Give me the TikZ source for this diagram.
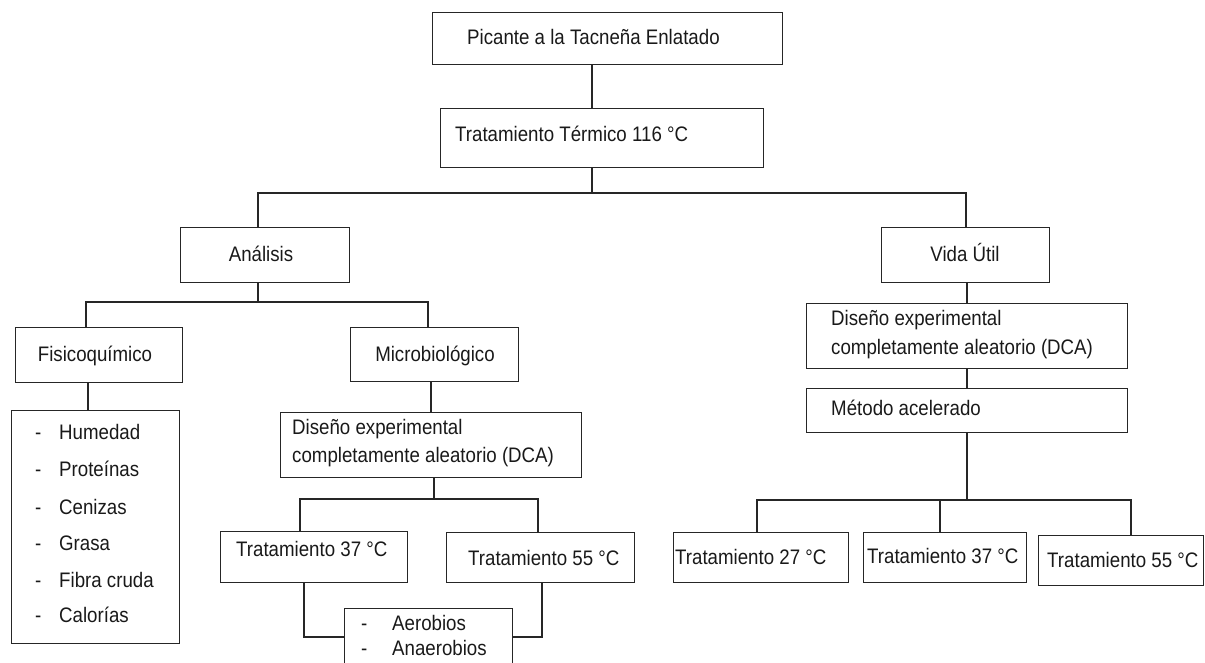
\documentclass[tikz,border=0pt]{standalone}
\usepackage{fontspec}
\setmainfont{Liberation Sans}[FakeStretch=0.89]
\begin{document}
\begin{tikzpicture}[x=1pt,y=-1pt,
  bx/.style={draw=black!85, line width=1.2pt, inner sep=0pt, anchor=north west},
  tx/.style={anchor=west, inner sep=0pt, text height=15pt, text depth=0pt,
             font=\fontsize{21}{25}\selectfont, text=black!90},
  ln/.style={draw=black!85, line width=1.2pt}]
\useasboundingbox (0,0) rectangle (1205,662);
\clip (0,0) rectangle (1205,662);

% ---------- boxes ----------
\node[bx, minimum width=350pt, minimum height=52pt] (top)  at (432,12)  {};
\node[bx, minimum width=323pt, minimum height=59pt] (trt)  at (440,108) {};
\node[bx, minimum width=169pt, minimum height=55pt] (ana)  at (180,227) {};
\node[bx, minimum width=168pt, minimum height=55pt] (vida) at (881,227) {};
\node[bx, minimum width=167pt, minimum height=55pt] (fis)  at (15,327)  {};
\node[bx, minimum width=168pt, minimum height=54pt] (mic)  at (350,327) {};
\node[bx, minimum width=168pt, minimum height=233pt] (list) at (11,410) {};
\node[bx, minimum width=301pt, minimum height=65pt] (dcaa) at (280,412) {};
\node[bx, minimum width=187pt, minimum height=51pt] (tsa)  at (220,531) {};
\node[bx, minimum width=188pt, minimum height=50pt] (tfa)  at (446,532) {};
\node[bx, minimum width=168pt, minimum height=80pt] (aer)  at (344,608) {};
\node[bx, minimum width=321pt, minimum height=65pt] (dcab) at (806,303) {};
\node[bx, minimum width=321pt, minimum height=44pt] (met)  at (806,388) {};
\node[bx, minimum width=175pt, minimum height=50pt] (tb)   at (673,532) {};
\node[bx, minimum width=163pt, minimum height=50pt] (tsb)  at (863,532) {};
\node[bx, minimum width=165pt, minimum height=50pt] (tfb)  at (1038,535) {};

% ---------- texts ----------
\node[tx] (top-t)  at (467,37)  {Picante a la Tacneña Enlatado};
\node[tx] (trt-t)  at (455,134) {Tratamiento Térmico 116 °C};
\node[tx, anchor=center] (ana-t)  at (261,254) {Análisis};
\node[tx, anchor=center] (vida-t) at (965,254) {Vida Útil};
\node[tx, anchor=center] (fis-t)  at (95,354)  {Fisicoquímico};
\node[tx, anchor=center] (mic-t)  at (435,354) {Microbiológico};

\node[tx] (l1) at (35,432) {\makebox[24pt][l]{-}Humedad};
\node[tx] (l2) at (35,469) {\makebox[24pt][l]{-}Proteínas};
\node[tx] (l3) at (35,507) {\makebox[24pt][l]{-}Cenizas};
\node[tx] (l4) at (35,543) {\makebox[24pt][l]{-}Grasa};
\node[tx] (l5) at (35,580) {\makebox[24pt][l]{-}Fibra cruda};
\node[tx] (l6) at (35,615) {\makebox[24pt][l]{-}Calorías};

\node[tx] (dcaa-1) at (292,427) {Diseño experimental};
\node[tx] (dcaa-2) at (292,455) {completamente aleatorio (DCA)};
\node[tx] (tsa-t)  at (236,549) {Tratamiento 37 °C};
\node[tx] (tfa-t)  at (468,558) {Tratamiento 55 °C};
\node[tx] (aer-1)  at (361,623) {\makebox[31pt][l]{-}Aerobios};
\node[tx] (aer-2)  at (361,648) {\makebox[31pt][l]{-}Anaerobios};

\node[tx] (dcab-1) at (831,318) {Diseño experimental};
\node[tx] (dcab-2) at (831,347) {completamente aleatorio (DCA)};
\node[tx] (met-t)  at (831,408) {Método acelerado};
\node[tx] (tb-t)   at (675,557) {Tratamiento 27 °C};
\node[tx] (tsb-t)  at (867,556) {Tratamiento 37 °C};
\node[tx] (tfb-t)  at (1047,560) {Tratamiento 55 °C};

% ---------- junction coordinates ----------
\coordinate (c0) at (592,0);
\coordinate (j1) at (592,193);
\coordinate (ja) at (258,193);
\coordinate (jv) at (966,193);
\coordinate (j2) at (258,302);
\coordinate (j2f) at (86,302);
\coordinate (j2m) at (428,302);
\coordinate (c3) at (88,0);
\coordinate (c4) at (431,0);
\coordinate (j4) at (434,499);
\coordinate (j4a) at (300,499);
\coordinate (j4b) at (538,499);
\coordinate (k1) at (304,637);
\coordinate (k2) at (542,637);
\coordinate (c5) at (967,0);
\coordinate (j5) at (967,500);
\coordinate (j5a) at (757,500);
\coordinate (j5b) at (940,500);
\coordinate (j5c) at (1131,500);

% ---------- connectors ----------
\draw[ln] (top.south -| c0) -- (trt.north -| c0);
\draw[ln] (trt.south -| j1) -- (j1);
\draw[ln] (ana.north -| ja) -- (ja) -- (jv) -- (vida.north -| jv);
\draw[ln] (ana.south -| j2) -- (j2);
\draw[ln] (fis.north -| j2f) -- (j2f) -- (j2m) -- (mic.north -| j2m);
\draw[ln] (fis.south -| c3) -- (list.north -| c3);
\draw[ln] (mic.south -| c4) -- (dcaa.north -| c4);
\draw[ln] (dcaa.south -| j4) -- (j4);
\draw[ln] (tsa.north -| j4a) -- (j4a) -- (j4b) -- (tfa.north -| j4b);
\draw[ln] (tsa.south -| k1) -- (k1) -- (aer.west |- k1);
\draw[ln] (tfa.south -| k2) -- (k2) -- (aer.east |- k2);
\draw[ln] (vida.south -| c5) -- (dcab.north -| c5);
\draw[ln] (dcab.south -| c5) -- (met.north -| c5);
\draw[ln] (met.south -| j5) -- (j5);
\draw[ln] (tb.north -| j5a) -- (j5a) -- (j5c) -- (tfb.north -| j5c);
\draw[ln] (j5b) -- (tsb.north -| j5b);
\end{tikzpicture}
\end{document}
